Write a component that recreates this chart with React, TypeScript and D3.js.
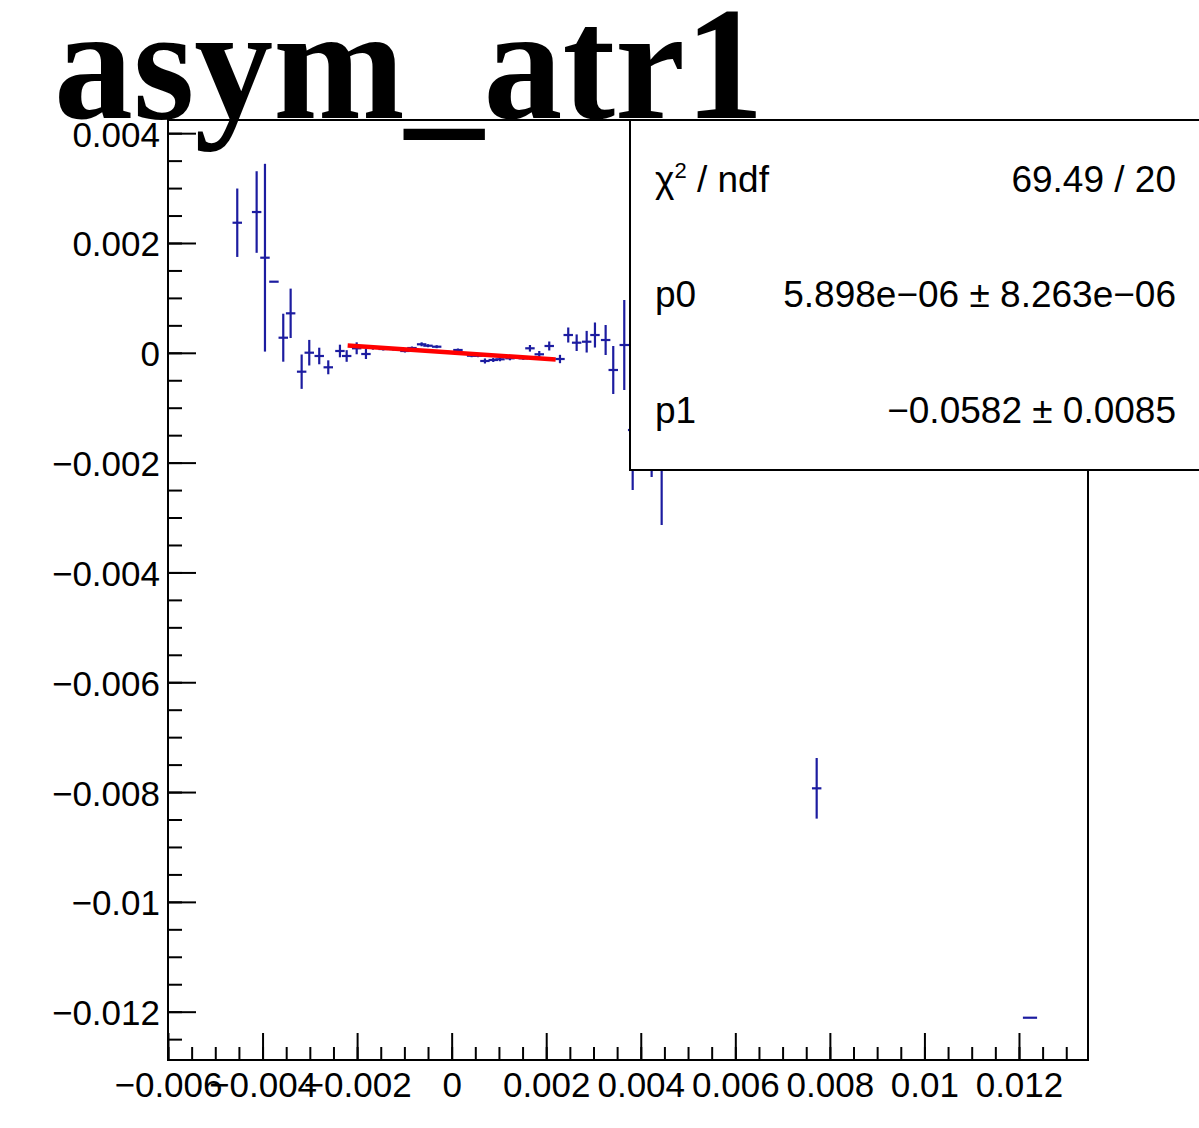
// Dependencies
import React, { useRef, useEffect } from "react";
import * as d3 from "d3";

// Chart data
const xValues = [
  -0.004535, -0.004125, -0.003949, -0.003759, -0.003562, -0.003406, -0.003173,
  -0.003012, -0.002801, -0.00261, -0.002363, -0.002221, -0.002009, -0.001813,
  -0.001665, -0.001447, -0.001235, -0.000988, -0.00084, -0.000635, -0.000501,
  -0.000317, -0.000072, 0.000133, 0.000423, 0.000556, 0.000704, 0.00088,
  0.001022, 0.001233, 0.00136, 0.001515, 0.001656, 0.001853, 0.002064,
  0.002291, 0.002466, 0.002644, 0.002856, 0.003031, 0.003257, 0.003418,
  0.003651, 0.003829, 0.00423, 0.004442, 0.007721, 0.012233,
];
const yValues = [
  0.002369, 0.002564, 0.001732, 0.001295, 0.000275, 0.000719, -0.000344,
  0.000002, -0.000058, -0.000264, 0.000033, -0.000058, 0.000082, -0.000022,
  0.000093, 0.000069, 0.000069, 0.000033, 0.000087, 0.000155, 0.000129,
  0.000111, 0.000009, 0.000051, -0.000053, -0.000053, -0.000149, -0.000131,
  -0.000118, -0.0001, -0.000076, -0.0001, 0.000082, -0.000027, 0.000124,
  -0.000113, 0.000324, 0.000184, 0.000202, 0.000324, 0.000233, -0.000313,
  0.000142, -0.001406, -0.001861, -0.001952, -0.007932, -0.01211,
];
const yErrors = [
  0.000623, 0.000743, 0.00171, 0.000005, 0.000437, 0.00045, 0.000313,
  0.000233, 0.000151, 0.000127, 0.000115, 0.000106, 0.000109, 0.000091,
  0.000036, 0.000027, 0.000027, 0.000027, 0.000027, 0.000036, 0.000027,
  0.000027, 0.000027, 0.000027, 0.000027, 0.000027, 0.000046, 0.000036,
  0.000036, 0.000036, 0.00003, 0.000027, 0.00006, 0.00006, 0.000082,
  0.000076, 0.000137, 0.000151, 0.000197, 0.000228, 0.000273, 0.000437,
  0.00082, 0.001093, 0.000401, 0.001184, 0.000552, 0.000005,
];
const xHalfWidth = 0.0001;
const xHalfWidthLast = 0.00015;

// Fit results
const fitP0 = 5.898e-6;
const fitP1 = -0.0582;
const fitRange = [-0.0022, 0.0022];

// Axis ticks
const xMajorTicks = [-0.006, -0.004, -0.002, 0, 0.002, 0.004, 0.006, 0.008, 0.01, 0.012];
const yMajorTicks = [-0.012, -0.01, -0.008, -0.006, -0.004, -0.002, 0, 0.002, 0.004];

// Stats box lines
const statsLabels = ["χ2 / ndf", "p0", "p1"];
const statsValues = ["69.49 / 20", "5.898e\u221206 \u00b1 8.263e\u221206", "\u22120.0582 \u00b1 0.0085"];

const title = "asym_atr1";

const width = 1199;
const height = 1128;

const fmt = (d: number) => (d === 0 ? "0" : d3.format("~g")(d));

const Chart: React.FC = () => {
  const svgRef = useRef<SVGSVGElement | null>(null);

  useEffect(() => {
    if (!svgRef.current) return;
    const svg = d3.select(svgRef.current).attr("width", width).attr("height", height);
    svg.selectAll("*").remove();

    // Frame
    const frame = { left: 168, top: 120, right: 1088, bottom: 1060 };

    const xScale = d3.scaleLinear().domain([-0.006, 0.01346]).range([frame.left, frame.right]);
    const yScale = d3.scaleLinear().domain([-0.01288, 0.00424]).range([frame.bottom, frame.top]);

    const font = "'Liberation Sans', Arial, Helvetica, sans-serif";

    svg.append("rect").attr("width", width).attr("height", height).attr("fill", "white");

    // Minor ticks
    const xMinor = d3.range(-0.006, 0.01346, 0.0005).map((v) => +v.toFixed(4));
    const yMinor = d3.range(-0.0125, 0.00424, 0.0005).map((v) => +v.toFixed(4));

    const xAxisMinor = svg
      .append("g")
      .attr("transform", `translate(0,${frame.bottom})`)
      .call(d3.axisBottom(xScale).tickValues(xMinor).tickSize(-13).tickFormat(() => ""));
    const xAxis = svg
      .append("g")
      .attr("transform", `translate(0,${frame.bottom})`)
      .call(
        d3.axisBottom(xScale).tickValues(xMajorTicks).tickSize(-27).tickPadding(12).tickFormat((d) => fmt(+d))
      );
    const yAxisMinor = svg
      .append("g")
      .attr("transform", `translate(${frame.left},0)`)
      .call(d3.axisLeft(yScale).tickValues(yMinor).tickSize(-14).tickFormat(() => ""));
    const yAxis = svg
      .append("g")
      .attr("transform", `translate(${frame.left},0)`)
      .call(
        d3.axisLeft(yScale).tickValues(yMajorTicks).tickSize(-28).tickPadding(8).tickFormat((d) => fmt(+d))
      );

    [xAxisMinor, xAxis, yAxisMinor, yAxis].forEach((g) => {
      g.select(".domain").remove();
      g.selectAll("line").attr("stroke", "black").attr("stroke-width", 2);
      g.selectAll("text")
        .attr("font-family", font)
        .attr("font-size", 35)
        .attr("fill", "black");
    });
    yAxis.selectAll("text").attr("dy", "0.37em");

    // Frame box
    svg
      .append("rect")
      .attr("x", frame.left)
      .attr("y", frame.top)
      .attr("width", frame.right - frame.left)
      .attr("height", frame.bottom - frame.top)
      .attr("fill", "none")
      .attr("stroke", "black")
      .attr("stroke-width", 2);

    // Data points with error bars
    const pts = xValues.map((x, i) => ({
      x,
      y: yValues[i],
      ey: yErrors[i],
      ex: i === xValues.length - 1 ? xHalfWidthLast : xHalfWidth,
    }));
    const pg = svg.append("g").attr("stroke", "#1c1ca0").attr("stroke-width", 2.2);
    pg.selectAll(".ev")
      .data(pts)
      .enter()
      .append("line")
      .attr("x1", (d) => xScale(d.x))
      .attr("x2", (d) => xScale(d.x))
      .attr("y1", (d) => yScale(d.y + d.ey))
      .attr("y2", (d) => yScale(d.y - d.ey));
    pg.selectAll(".eh")
      .data(pts)
      .enter()
      .append("line")
      .attr("x1", (d) => xScale(d.x - d.ex))
      .attr("x2", (d) => xScale(d.x + d.ex))
      .attr("y1", (d) => yScale(d.y))
      .attr("y2", (d) => yScale(d.y));

    // Fit line
    const fitLine = d3
      .line<number>()
      .x((d) => xScale(d))
      .y((d) => yScale(fitP0 + fitP1 * d));
    svg
      .append("path")
      .attr("d", fitLine(fitRange))
      .attr("fill", "none")
      .attr("stroke", "#ff0000")
      .attr("stroke-width", 4.5);

    // Stats box
    const box = { x: 630, y: 120, w: 620, h: 350 };
    svg
      .append("rect")
      .attr("x", box.x)
      .attr("y", box.y)
      .attr("width", box.w)
      .attr("height", box.h)
      .attr("fill", "white")
      .attr("stroke", "black")
      .attr("stroke-width", 2);
    const baselines = [192, 307, 423];
    statsLabels.forEach((label, i) => {
      const t = svg
        .append("text")
        .attr("x", 655)
        .attr("y", baselines[i])
        .attr("font-family", font)
        .attr("font-size", 37)
        .attr("fill", "black");
      if (label.startsWith("χ2")) {
        t.append("tspan").text("χ");
        t.append("tspan").attr("font-size", 22).attr("dy", -14).text("2");
        t.append("tspan").attr("dy", 14).text(" / ndf");
      } else {
        t.text(label);
      }
      svg
        .append("text")
        .attr("x", 1176)
        .attr("y", baselines[i])
        .attr("text-anchor", "end")
        .attr("font-family", font)
        .attr("font-size", 37)
        .attr("fill", "black")
        .text(statsValues[i]);
    });

    // Title
    svg
      .append("text")
      .attr("x", 54)
      .attr("y", 118)
      .attr("font-family", "'Liberation Serif', 'Times New Roman', serif")
      .attr("font-weight", "bold")
      .attr("font-size", 160)
      .attr("textLength", 710)
      .attr("lengthAdjust", "spacingAndGlyphs")
      .attr("fill", "black")
      .text(title);

    return () => {
      svg.selectAll("*").remove();
    };
  }, []);

  return <svg ref={svgRef} style={{ display: "block" }} />;
};

export default function App() {
  return (
    <div style={{ position: "absolute", left: 0, top: 0 }}>
      <Chart />
    </div>
  );
}
